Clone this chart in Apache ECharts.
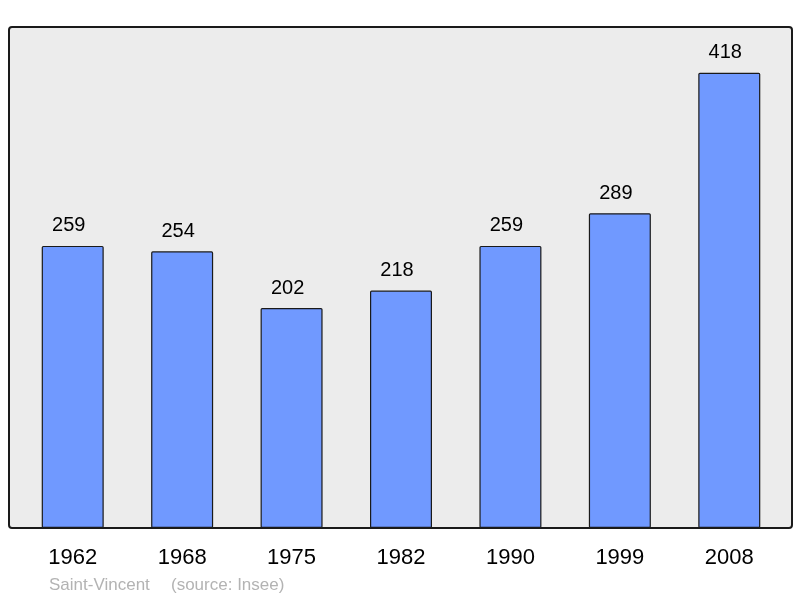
<!DOCTYPE html>
<html>
<head>
<meta charset="utf-8">
<script src="https://cdn.jsdelivr.net/npm/echarts@6/dist/echarts.min.js"></script>
<style>
  html, body { margin: 0; padding: 0; background: #fff; }
  #chart { width: 800px; height: 598px; }
</style>
</head>
<body>
<div id="chart"></div>
<script>
// population data
var years = ['1962', '1968', '1975', '1982', '1990', '1999', '2008'];
var population = [259, 254, 202, 218, 259, 289, 418];

var myChart = echarts.init(document.getElementById('chart'));

var option = {
    animation: false,
    textStyle: { fontFamily: 'Liberation Sans, Arial, sans-serif' },
    graphic: [
        {
            type: 'rect',
            z: -10,
            shape: { x: 9, y: 27, width: 783, height: 501, r: 3 },
            style: { fill: '#ececec', stroke: '#1a1a1a', lineWidth: 2 }
        },
        {
            type: 'text',
            left: 49,
            top: 577,
            style: { text: 'Saint-Vincent', fill: '#b3b3b3', font: '17px Liberation Sans, Arial, sans-serif' }
        },
        {
            type: 'text',
            left: 171,
            top: 577,
            style: { text: '(source: Insee)', fill: '#b3b3b3', font: '17px Liberation Sans, Arial, sans-serif' }
        }
    ],
    grid: { left: 18, right: 16, top: 27, bottom: 70 },
    xAxis: {
        type: 'category',
        data: years,
        axisLine: { show: false },
        axisTick: { show: false },
        axisLabel: { color: '#000', fontSize: 22, margin: 19 }
    },
    yAxis: {
        type: 'value',
        min: 0,
        max: 460,
        show: false,
        splitLine: { show: false }
    },
    series: [{
        type: 'bar',
        data: population,
        barWidth: 62,
        itemStyle: { color: '#7099ff', borderColor: '#1a1a1a', borderWidth: 1.2, borderRadius: 1 },
        label: {
            show: true,
            position: 'top',
            distance: 10,
            offset: [-4, 0],
            color: '#000',
            fontSize: 20
        }
    }]
};

myChart.setOption(option);
</script>
</body>
</html>
